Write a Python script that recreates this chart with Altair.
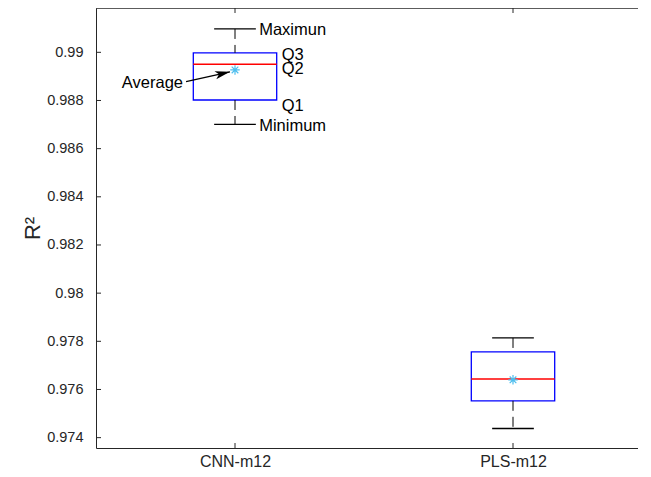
import json
import altair as alt
import pandas as pd

# ---- data ----
groups = ["CNN-m12", "PLS-m12"]
r2_max = [0.99097, 0.97814]
r2_q3 = [0.98998, 0.97756]
r2_median = [0.98950, 0.97643]
r2_q1 = [0.98802, 0.97553]
r2_min = [0.98701, 0.97438]
r2_mean = [0.98927, 0.97640]

y_ticks = [0.974, 0.976, 0.978, 0.98, 0.982, 0.984, 0.986, 0.988, 0.99]

ann_labels = ["Maximun", "Q3", "Q2", "Q1", "Minimum"]
ann_x = [1.087, 1.168, 1.168, 1.168, 1.087]
ann_y = [0.99093, 0.98987, 0.98931, 0.98779, 0.98692]

avg_label = ["Average"]
avg_x = [0.813]
avg_y = [0.98874]
arrow_from_x = [0.824]
arrow_from_y = [0.98878]
arrow_to_x = [0.982]
arrow_to_y = [0.98919]

# ---- layout / style ----
W, H = 542, 440
PX_PER_UNIT = 278.0
BOX_HALF = 0.15
CAP_HALF = 0.075
AXC = "#262626"
FONT = "Liberation Sans"

df = pd.DataFrame({
    "group": groups,
    "pos": [i + 1 for i in range(len(groups))],
    "mx": r2_max, "q3": r2_q3, "med": r2_median,
    "q1": r2_q1, "mn": r2_min, "mean": r2_mean,
})
df["box_l"] = df["pos"] - BOX_HALF
df["box_r"] = df["pos"] + BOX_HALF
df["cap_l"] = df["pos"] - CAP_HALF
df["cap_r"] = df["pos"] + CAP_HALF

ann_df = pd.DataFrame({"label": ann_labels, "x": ann_x, "y": ann_y})
avg_df = pd.DataFrame({"label": avg_label, "x": avg_x, "y": avg_y})
arrow_df = pd.DataFrame({"x": arrow_from_x, "y": arrow_from_y,
                         "x2": arrow_to_x, "y2": arrow_to_y})
ticks_df = pd.DataFrame({"t": y_ticks})
xticks_df = pd.DataFrame({"p": [i + 1 for i in range(len(groups))]})

xscale = alt.Scale(domain=[0.5, 0.5 + W / PX_PER_UNIT], nice=False, zero=False)
yscale = alt.Scale(domain=[0.97357, 0.99184], nice=False, zero=False)

label_expr = json.dumps(groups).replace('"', "'") + "[datum.value - 1]"
xaxis = alt.Axis(values=[i + 1 for i in range(len(groups))], labelExpr=label_expr,
                 ticks=False, grid=False, labelFontSize=16, labelPadding=18,
                 labelBaseline="alphabetic",
                 domainColor=AXC, labelColor=AXC, labelFont=FONT, title=None)
yaxis = alt.Axis(values=y_ticks, format=".3~f", ticks=False, grid=False,
                 labelFontSize=14.5, labelPadding=13, domainColor=AXC,
                 labelColor=AXC, labelFont=FONT, title="R²", titleFontSize=22,
                 titleFont=FONT, titleFontWeight="normal", titleColor=AXC,
                 titleAngle=270, titleAlign="center", titleBaseline="middle",
                 titleX=-64, titleY=220)


def X(f):
    return alt.X(f, type="quantitative", scale=xscale, axis=xaxis, title=None)


def Y(f):
    return alt.Y(f, type="quantitative", scale=yscale, axis=yaxis, title="R²")


base = alt.Chart(df)

box = base.mark_rect(fill="transparent", stroke="#0000FF", strokeWidth=1.3).encode(
    x=X("box_l"), x2="box_r", y=Y("q1"), y2="q3")
median = base.mark_rule(color="#FF0000", strokeWidth=1.5).encode(
    x=X("box_l"), x2="box_r", y=Y("med"))
wh_up = base.mark_rule(color="black", strokeWidth=1, strokeDash=[10, 6]).encode(
    x=X("pos"), y=Y("mx"), y2="q3")
wh_lo = base.mark_rule(color="black", strokeWidth=1, strokeDash=[10, 6]).encode(
    x=X("pos"), y=Y("q1"), y2="mn")
cap_up = base.mark_rule(color="black", strokeWidth=1.3).encode(
    x=X("cap_l"), x2="cap_r", y=Y("mx"))
cap_lo = base.mark_rule(color="black", strokeWidth=1.3).encode(
    x=X("cap_l"), x2="cap_r", y=Y("mn"))

ASTERISK = "M-1,0L1,0M0,-1L0,1M-0.7,-0.7L0.7,0.7M-0.7,0.7L0.7,-0.7"
mean = base.mark_point(shape=ASTERISK, filled=False, size=90, stroke="#4DBEEE",
                       strokeWidth=1.2, opacity=1).encode(x=X("pos"), y=Y("mean"))

ytick_l = alt.Chart(ticks_df).mark_rule(color=AXC, strokeWidth=1).encode(
    y=Y("t"), x=alt.value(0), x2=alt.value(5))
xtick_b = alt.Chart(xticks_df).mark_rule(color=AXC, strokeWidth=1).encode(
    x=X("p"), y=alt.value(H), y2=alt.value(H - 5))
xtick_t = alt.Chart(xticks_df).mark_rule(color=AXC, strokeWidth=1).encode(
    x=X("p"), y=alt.value(0), y2=alt.value(5))
top_border = alt.Chart(xticks_df).mark_rule(color=AXC, strokeWidth=1).encode(
    x=alt.value(0), x2=alt.value(W), y=alt.value(0), y2=alt.value(0))

ann = alt.Chart(ann_df).mark_text(align="left", baseline="middle", fontSize=16.5,
                                  font=FONT, color="black").encode(
    x=X("x"), y=Y("y"), text="label")
avg_text = alt.Chart(avg_df).mark_text(align="right", baseline="middle", fontSize=16.5,
                                       font=FONT, color="black").encode(
    x=X("x"), y=Y("y"), text="label")
arrow_line = alt.Chart(arrow_df).mark_rule(color="black", strokeWidth=1.2).encode(
    x=X("x"), x2="x2", y=Y("y"), y2="y2")
HEAD = "M0,0L-2,-0.55L-1.5,0L-2,0.55Z"
arrow_head = alt.Chart(arrow_df).mark_point(shape=HEAD, filled=True, size=225,
                                            color="black", opacity=1, angle=347).encode(
    x=X("x2"), y=Y("y2"))

chart = alt.layer(
    box, wh_up, wh_lo, cap_up, cap_lo, median, mean,
    ytick_l, xtick_b, xtick_t, top_border,
    ann, avg_text, arrow_line, arrow_head,
).properties(
    width=W, height=H,
    autosize=alt.AutoSizeParams(type="none"),
    padding={"left": 88, "top": 0, "right": 0, "bottom": 21},
).configure_view(stroke=None).configure_axis(grid=False)

chart.save("out.html", embed_options={"renderer": "svg", "actions": False})
